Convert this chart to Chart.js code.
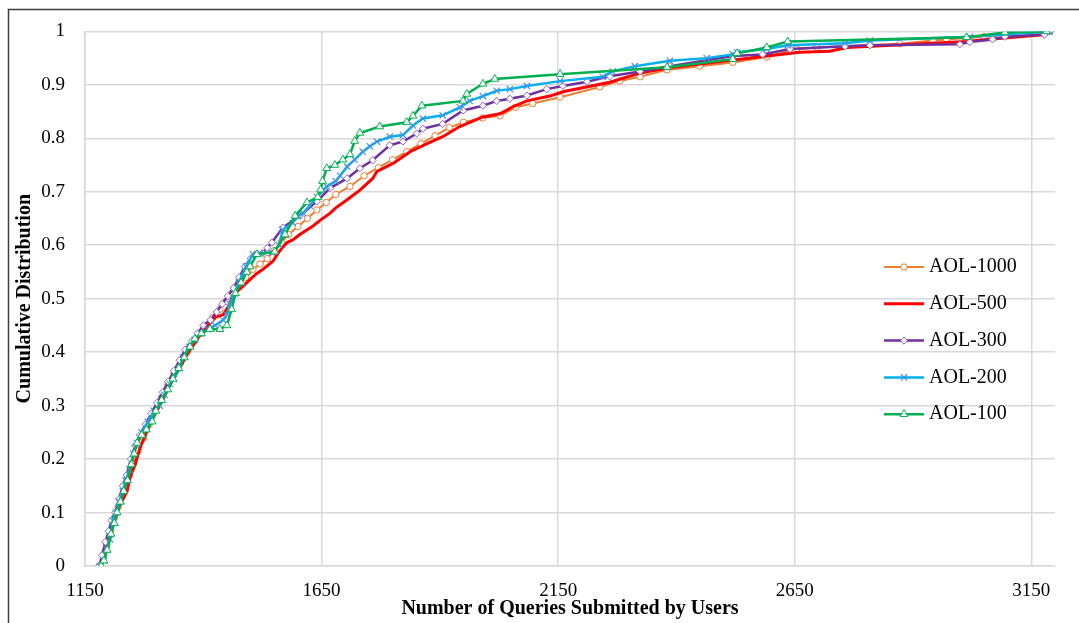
<!DOCTYPE html>
<html>
<head>
<meta charset="utf-8">
<title>Cumulative Distribution</title>
<script src="https://cdn.jsdelivr.net/npm/chart.js@4.4.1/dist/chart.umd.min.js"></script>
<style>
  html, body { margin: 0; padding: 0; background: #fff; }
  canvas { display: block; }
</style>
</head>
<body>
<canvas id="cdfChart" width="1079" height="623"></canvas>
<script>
// tick labels
const xTicks = [1150, 1650, 2150, 2650, 3150];
const seriesLabels = ["AOL-1000", "AOL-500", "AOL-300", "AOL-200", "AOL-100"];

// AOL-1000 (queries, cumulative share)
const aol1000Q = [1180,1188,1196,1204,1212,1220,1228,1236,1244,1252,1262,1274,1286,1298,1312,1325,1338,1352,1366,1380,1394,1408,1420,1435,1448,1460,1474,1490,1505,1520,1535,1550,1565,1580,1600,1620,1640,1660,1680,1710,1740,1770,1800,1830,1860,1890,1920,1950,1990,2027,2060,2096,2154,2238,2280,2323,2380,2449,2519,2591,2654,2697,2872,2942,2971,3050,3189];
const aol1000P = [0,0.02,0.04,0.065,0.09,0.11,0.13,0.15,0.17,0.19,0.215,0.24,0.265,0.29,0.315,0.34,0.36,0.38,0.4,0.42,0.435,0.45,0.465,0.48,0.495,0.51,0.525,0.54,0.555,0.565,0.575,0.59,0.605,0.62,0.635,0.65,0.666,0.68,0.695,0.71,0.73,0.745,0.76,0.775,0.79,0.805,0.82,0.83,0.838,0.842,0.858,0.865,0.877,0.896,0.907,0.915,0.928,0.935,0.942,0.952,0.967,0.97,0.977,0.983,0.985,0.99,1.0];

// AOL-500
const aol500Q = [1182,1190,1198,1206,1214,1222,1230,1239,1245,1256,1266,1280,1292,1308,1322,1336,1350,1365,1380,1393,1410,1425,1442,1456,1463,1480,1492,1510,1526,1547,1562,1577,1589,1604,1632,1646,1668,1680,1704,1731,1758,1767,1801,1837,1873,1906,1942,1991,2027,2054,2084,2132,2160,2259,2323,2392,2477,2534,2591,2661,2724,2760,3013,3056,3182];
const aol500P = [0,0.02,0.04,0.07,0.09,0.11,0.125,0.14,0.165,0.19,0.22,0.25,0.275,0.3,0.325,0.35,0.37,0.395,0.415,0.432,0.45,0.465,0.47,0.49,0.507,0.52,0.53,0.545,0.555,0.57,0.59,0.605,0.61,0.62,0.636,0.646,0.66,0.67,0.685,0.703,0.725,0.738,0.753,0.775,0.79,0.803,0.822,0.84,0.846,0.859,0.87,0.879,0.887,0.905,0.922,0.933,0.942,0.948,0.954,0.961,0.963,0.97,0.981,0.985,0.994];

// AOL-300
const aol300Q = [1180,1186,1193,1200,1206,1214,1222,1230,1238,1247,1256,1266,1278,1290,1302,1314,1326,1338,1350,1362,1375,1388,1400,1415,1428,1440,1452,1464,1476,1488,1500,1510,1525,1535,1545,1568,1604,1640,1668,1704,1731,1758,1794,1822,1851,1864,1906,1949,1991,2020,2048,2084,2126,2160,2211,2259,2323,2386,2519,2582,2640,2756,2809,2999,3020,3068,3094,3178,3189];
const aol300P = [0,0.02,0.045,0.065,0.085,0.1,0.125,0.15,0.17,0.2,0.225,0.245,0.265,0.285,0.305,0.325,0.345,0.365,0.385,0.405,0.42,0.435,0.45,0.46,0.475,0.49,0.505,0.52,0.54,0.56,0.575,0.583,0.585,0.595,0.605,0.633,0.655,0.682,0.707,0.725,0.744,0.759,0.787,0.794,0.809,0.818,0.827,0.852,0.861,0.87,0.874,0.88,0.892,0.898,0.906,0.916,0.925,0.935,0.954,0.957,0.967,0.972,0.974,0.976,0.98,0.985,0.99,0.994,1.0];

// AOL-200
const aol200Q = [1182,1190,1196,1203,1209,1215,1222,1230,1236,1244,1252,1260,1270,1283,1296,1308,1318,1330,1338,1350,1357,1370,1382,1395,1410,1425,1442,1450,1456,1466,1475,1490,1505,1520,1545,1560,1568,1589,1600,1611,1625,1640,1661,1680,1689,1704,1720,1737,1752,1767,1794,1822,1843,1864,1906,1942,1963,1991,2020,2048,2084,2154,2244,2265,2312,2386,2464,2519,2528,2591,2635,2756,2809,3020,3189];
const aol200P = [0,0.01,0.03,0.05,0.085,0.1,0.12,0.14,0.16,0.18,0.21,0.23,0.25,0.27,0.29,0.3,0.32,0.34,0.35,0.37,0.39,0.41,0.423,0.435,0.443,0.45,0.46,0.47,0.49,0.51,0.53,0.56,0.583,0.585,0.586,0.6,0.629,0.642,0.655,0.66,0.674,0.69,0.71,0.72,0.73,0.747,0.76,0.775,0.785,0.794,0.803,0.806,0.824,0.837,0.843,0.858,0.87,0.879,0.889,0.892,0.898,0.907,0.915,0.925,0.935,0.945,0.95,0.957,0.961,0.967,0.974,0.978,0.983,0.99,1.0];

// AOL-100
const aol100Q = [1184,1190,1197,1205,1212,1218,1225,1232,1240,1248,1254,1260,1270,1280,1292,1300,1312,1325,1336,1348,1360,1372,1382,1396,1414,1435,1450,1460,1468,1480,1492,1499,1513,1551,1573,1594,1619,1642,1648,1652,1661,1678,1695,1710,1720,1731,1773,1830,1843,1862,1949,1957,1991,2016,2154,2380,2519,2528,2591,2635,3013,3094,3182];
const aol100P = [0,0.01,0.03,0.06,0.08,0.1,0.12,0.14,0.16,0.19,0.21,0.23,0.245,0.255,0.27,0.29,0.31,0.33,0.35,0.37,0.39,0.41,0.425,0.435,0.443,0.443,0.45,0.48,0.51,0.53,0.55,0.56,0.583,0.588,0.62,0.655,0.68,0.69,0.704,0.72,0.744,0.75,0.76,0.77,0.795,0.81,0.822,0.83,0.842,0.861,0.87,0.883,0.902,0.911,0.92,0.933,0.948,0.959,0.97,0.981,0.989,0.998,1.0];

const serif = "'Liberation Serif', 'Times New Roman', serif";

function pts(q, p) {
  return q.map((v, i) => ({ x: v, y: p[i] }));
}

// dark frame on the left and top, like the cropped chart border
const framePlugin = {
  id: "frame",
  beforeDraw(chart) {
    const ctx = chart.ctx;
    ctx.save();
    ctx.strokeStyle = "#3f3f3f";
    ctx.lineWidth = 1.5;
    ctx.beginPath();
    ctx.moveTo(8.5, chart.height);
    ctx.lineTo(8.5, 9.5);
    ctx.lineTo(chart.width, 9.5);
    ctx.stroke();
    ctx.restore();
  }
};

// legend drawn inside the plot, right side
const legendPlugin = {
  id: "insideLegend",
  afterDraw(chart) {
    const ctx = chart.ctx;
    const x0 = 884, x1 = 924, top = 267, step = 36.8;
    ctx.save();
    chart.data.datasets.forEach((ds, i) => {
      const y = top + i * step;
      ctx.strokeStyle = ds.borderColor;
      ctx.lineWidth = ds.borderWidth;
      ctx.beginPath();
      ctx.moveTo(x0, y);
      ctx.lineTo(x1, y);
      ctx.stroke();
      if (ds.pointRadius > 0 && Chart.helpers && Chart.helpers.drawPoint) {
        ctx.fillStyle = ds.pointBackgroundColor;
        ctx.strokeStyle = ds.pointBorderColor;
        ctx.lineWidth = ds.pointBorderWidth;
        Chart.helpers.drawPoint(ctx, {
          pointStyle: ds.pointStyle,
          radius: ds.pointRadius,
          rotation: 0,
          borderWidth: ds.pointBorderWidth
        }, (x0 + x1) / 2, y);
      }
      ctx.fillStyle = "#000";
      ctx.font = "20px " + serif;
      ctx.textBaseline = "middle";
      ctx.textAlign = "left";
      ctx.fillText(ds.label, x1 + 5, y);
    });
    ctx.restore();
  }
};

const ctx = document.getElementById("cdfChart").getContext("2d");

new Chart(ctx, {
  type: "line",
  data: {
    datasets: [
      {
        label: seriesLabels[0],
        data: pts(aol1000Q, aol1000P),
        borderColor: "#ED7D31",
        borderWidth: 2,
        pointStyle: "circle",
        pointRadius: 3.2,
        pointBorderWidth: 1,
        pointBackgroundColor: "#fff",
        pointBorderColor: "#ED7D31",
        order: 5
      },
      {
        label: seriesLabels[1],
        data: pts(aol500Q, aol500P),
        borderColor: "#FF0000",
        borderWidth: 3,
        pointRadius: 0,
        order: 4
      },
      {
        label: seriesLabels[2],
        data: pts(aol300Q, aol300P),
        borderColor: "#7030A0",
        borderWidth: 2.5,
        pointStyle: "rectRot",
        pointRadius: 3.6,
        pointBorderWidth: 1,
        pointBackgroundColor: "#fff",
        pointBorderColor: "#8C63C4",
        order: 3
      },
      {
        label: seriesLabels[3],
        data: pts(aol200Q, aol200P),
        borderColor: "#00B0F0",
        borderWidth: 2.5,
        pointStyle: "crossRot",
        pointRadius: 4.5,
        pointBorderWidth: 1.2,
        pointBackgroundColor: "#fff",
        pointBorderColor: "#4A90E2",
        order: 2
      },
      {
        label: seriesLabels[4],
        data: pts(aol100Q, aol100P),
        borderColor: "#00B050",
        borderWidth: 2.5,
        pointStyle: "triangle",
        pointRadius: 4.5,
        pointBorderWidth: 1,
        pointBackgroundColor: "#fff",
        pointBorderColor: "#00B050",
        order: 1
      }
    ]
  },
  options: {
    responsive: false,
    animation: false,
    layout: { padding: { top: 27, right: 24, left: 0, bottom: 0 } },
    plugins: {
      legend: { display: false },
      tooltip: { enabled: false }
    },
    scales: {
      x: {
        type: "linear",
        min: 1150,
        max: 3200,
        afterBuildTicks: s => { s.ticks = xTicks.map(v => ({ value: v })); },
        afterFit: s => { s.height = 57; },
        grid: { color: "#D9D9D9", lineWidth: 1.5, drawTicks: false },
        border: { color: "#D9D9D9", width: 1.5 },
        ticks: {
          padding: 14,
          color: "#000",
          autoSkip: false,
          maxRotation: 0,
          font: { family: serif, size: 19 },
          callback: v => String(v)
        },
        title: {
          display: true,
          text: "Number of Queries Submitted by Users",
          color: "#000",
          font: { family: serif, size: 20, weight: "bold" },
          padding: { top: 0, bottom: 2 }
        }
      },
      y: {
        min: 0,
        max: 1,
        afterFit: s => { s.width = 85; },
        grid: { color: "#D9D9D9", lineWidth: 1.5, drawTicks: false },
        border: { color: "#D9D9D9", width: 1.5 },
        ticks: {
          stepSize: 0.1,
          padding: 20,
          color: "#000",
          font: { family: serif, size: 19 },
          callback: v => String(Math.round(v * 10) / 10)
        },
        title: {
          display: true,
          text: "Cumulative Distribution",
          color: "#000",
          font: { family: serif, size: 20, weight: "bold" },
          padding: { top: 13, bottom: 0 }
        }
      }
    }
  },
  plugins: [framePlugin, legendPlugin]
});
</script>
</body>
</html>
